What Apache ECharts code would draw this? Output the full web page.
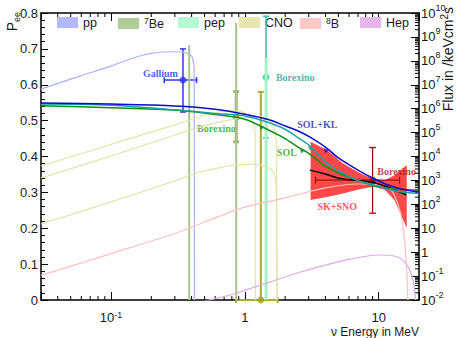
<!DOCTYPE html>
<html><head><meta charset="utf-8">
<script src="https://cdn.jsdelivr.net/npm/echarts@6/dist/echarts.min.js"></script>
<style>html,body{margin:0;padding:0;background:#fff}#c{width:456px;height:338px}</style>
</head><body><div id="c"></div>
<script>
// ---------- survival probability curves (E in MeV, Pee) ----------
const E_curve = [0.03, 0.1, 0.3, 0.6, 1, 1.5, 2, 2.5, 3, 4, 5, 7, 9, 12, 15, 20];
const P_solkl = [0.549, 0.546, 0.541, 0.532, 0.518, 0.503, 0.485, 0.471, 0.456, 0.426, 0.396, 0.362, 0.340, 0.319, 0.309, 0.301];
const P_teal  = [0.546, 0.543, 0.530, 0.520, 0.513, 0.495, 0.476, 0.452, 0.432, 0.385, 0.360, 0.333, 0.321, 0.308, 0.301, 0.297];
const P_sol   = [0.5415, 0.536, 0.5295, 0.517, 0.504, 0.474, 0.450, 0.426, 0.409, 0.373, 0.354, 0.333, 0.320, 0.311, 0.308, 0.306];
const E_skfit = [3.06, 4, 5.1, 7, 9, 12, 14, 16.1];
const P_skfit = [0.362, 0.351, 0.339, 0.333, 0.328, 0.313, 0.302, 0.293];
const E_band  = [3.1, 4.1, 5.4, 7.2, 9.1, 11.1, 13.1, 16.2];
const P_band_lo = [0.279, 0.287, 0.297, 0.309, 0.316, 0.307, 0.279, 0.201];
const P_band_hi = [0.441, 0.418, 0.381, 0.354, 0.337, 0.334, 0.348, 0.376];

// ---------- measurements: point [E, Pee], E range, Pee range ----------
const ga_pt = [0.345, 0.613], ga_ex = [0.25, 0.436], ga_ey = [0.524, 0.700];
const be7_pt = [0.862, 0.511], be7_ey = [0.441, 0.581];
const pep_pt = [1.44, 0.621], pep_ey = [0.452, 0.791];
const cno_pt = [1.316, 0.0], cno_ex = [0.857, 1.76], cno_ey = [0.0, 0.58];
const b8_pt = [9.0, 0.334], b8_ex = [3.37, 14.3], b8_ey = [0.242, 0.425];

// ---------- solar neutrino spectra (flux per keV cm^2 s) ----------
const pp_E = [0.03, 0.06, 0.1, 0.15, 0.2, 0.25, 0.3, 0.35, 0.38, 0.40, 0.41, 0.418, 0.4205];
const pp_F = [6.6e6, 2.4e7, 6.0e7, 1.38e8, 2.04e8, 2.34e8, 2.4e8, 2.24e8, 2.04e8, 1.58e8, 1.1e8, 5.0e7, 0.01];
const be7_E = [0.384, 0.862];
const be7_F = [4.6e8, 3.9e9];
const pep_E = 1.442, pep_F = 1.3e8;
const n13_E = [0.03, 0.1, 0.3, 0.46, 0.6, 0.77, 0.92, 1.05, 1.15, 1.195, 1.199];
const n13_F = [4.0e3, 3.2e4, 2.1e5, 4.5e5, 6.6e5, 8.3e5, 7.9e5, 5.5e5, 2.75e5, 8e4, 0.01];
const o15_E = [0.03, 0.1, 0.3, 0.46, 0.77, 1.0, 1.19, 1.41, 1.59, 1.69, 1.725, 1.732];
const o15_F = [1.26e3, 1.05e4, 7.9e4, 1.7e5, 3.4e5, 4.2e5, 4.5e5, 4.1e5, 2.5e5, 9.5e4, 2e4, 0.01];
const f17_E = [0.03, 0.1, 0.3, 0.46, 0.87, 1.19, 1.48, 1.63, 1.71, 1.74];
const f17_F = [15, 126, 955, 2.2e3, 4.5e3, 4.7e3, 3.6e3, 2.2e3, 850, 0.01];
const b8_E = [0.03, 0.1, 0.3, 0.6, 1, 2, 4, 7, 10, 12.5, 14.5, 15.3, 16, 16.5];
const b8_F = [0.107, 0.87, 6.0, 27, 76, 186, 490, 708, 661, 363, 48, 8.5, 0.57, 0.01];
const hep_E = [0.5, 0.8, 1.5, 2.6, 4.5, 6, 10, 13.5, 15.9, 17.9, 18.8];
const hep_F = [0.009, 0.017, 0.054, 0.148, 0.34, 0.50, 0.76, 0.66, 0.35, 0.083, 0.01];

// ---------- legend ----------
const legNames = ['pp', '7Be', 'pep', 'CNO', '8B', 'Hep'];
const legColors = ['#b3b8ff', '#b0cc98', '#b4f8d4', '#e6e6b4', '#ffc8c8', '#e8b4ec'];
const legLeft = [57, 118, 178, 239, 300, 360];

const FONT = 'Liberation Sans';
const SERIF = 'Liberation Serif';
const chart = echarts.init(document.getElementById('c'), null, {renderer: 'svg'});

const lg = v => Math.log10(v);
function fluxLine(name, E, F, color, width) {
  return {type: 'line', name, xAxisIndex: 0, yAxisIndex: 1, data: E.map((e, i) => [e, lg(F[i])]),
    symbol: 'none', smooth: 0.3, lineStyle: {color, width}, itemStyle: {color}, silent: true};
}
function vline(name, e, f, color, width) {
  return {type: 'line', name, xAxisIndex: 0, yAxisIndex: 1, data: [[e, -2], [e, lg(f)]],
    symbol: 'none', lineStyle: {color, width}, itemStyle: {color}, silent: true};
}
function peeLine(name, E, P, color, width) {
  return {type: 'line', name, xAxisIndex: 0, yAxisIndex: 0, data: E.map((e, i) => [e, P[i]]),
    symbol: 'none', smooth: 0.3, lineStyle: {color, width}, itemStyle: {color}, silent: true};
}
function errSeries(pt, ex, ey, color, lw, cap) {
  const d = [pt[0], pt[1], ex ? ex[0] : pt[0], ex ? ex[1] : pt[0], ey[0], ey[1]];
  return {type: 'custom', xAxisIndex: 0, yAxisIndex: 0, silent: true, clip: false, data: [d],
    renderItem: (params, api) => {
      const x = api.value(0), y = api.value(1), x1 = api.value(2), x2 = api.value(3), y1 = api.value(4), y2 = api.value(5);
      const pl = api.coord([x1, y]), pr = api.coord([x2, y]), pb = api.coord([x, y1]), ptp = api.coord([x, y2]);
      const st = {stroke: color, lineWidth: lw};
      const L = (a, b, c, e) => ({type: 'line', shape: {x1: a, y1: b, x2: c, y2: e}, style: st});
      const ch = [L(pb[0], pb[1], ptp[0], ptp[1])];
      if (y2 !== y) ch.push(L(ptp[0] - cap, ptp[1], ptp[0] + cap, ptp[1]));
      if (y1 !== y) ch.push(L(pb[0] - cap, pb[1], pb[0] + cap, pb[1]));
      if (x1 !== x2) {
        ch.push(L(pl[0], pl[1], pr[0], pr[1]));
        ch.push(L(pl[0], pl[1] - cap, pl[0], pl[1] + cap));
        ch.push(L(pr[0], pr[1] - cap, pr[0], pr[1] + cap));
      }
      return {type: 'group', children: ch};
    }};
}

// minor tick positions for log axes
const xMinor = [];
[0.01, 0.1, 1, 10].forEach(d => { for (let k = 2; k <= 9; k++) { const v = k * d; if (v > 0.03 && v < 20) xMinor.push(v); } });
const yMinor = [];
for (let n = -2; n < 10; n++) for (let k = 2; k <= 9; k++) yMinor.push(n + Math.log10(k));

function powLabel(e) {
  if (e === 0) return '{n|1}';
  if (e === 1) return '{n|10}';
  return '{n|10}{s|' + e + '}';
}
const richPow = {
  n: {fontSize: 13, lineHeight: 20, fontFamily: FONT, color: '#1a1a1a'},
  s: {fontSize: 9, lineHeight: 10, verticalAlign: 'top', fontFamily: FONT, color: '#1a1a1a'}
};
const richPowX = {
  n: {fontSize: 13, lineHeight: 14, fontFamily: FONT, color: '#1a1a1a'},
  s: {fontSize: 9, lineHeight: 6, verticalAlign: 'top', fontFamily: FONT, color: '#1a1a1a'}
};

const series = [
  fluxLine('pp', pp_E, pp_F, '#aab0ff', 1.2),
  vline('7Be', be7_E[0], be7_F[0], '#a8c48c', 2),
  vline('7Be', be7_E[1], be7_F[1], '#a8c48c', 2),
  vline('pep', pep_E, pep_F, '#a8f2c8', 3),
  fluxLine('CNO', n13_E, n13_F, '#e4e4aa', 1.2),
  fluxLine('CNO', o15_E, o15_F, '#e4e4aa', 1.2),
  fluxLine('CNO', f17_E, f17_F, '#e4e4aa', 1.2),
  fluxLine('8B', b8_E, b8_F, '#ffc0c0', 1.2),
  fluxLine('Hep', hep_E, hep_F, '#e2a8e8', 1.2),
  // SK+SNO allowed band: polygon between the upper and lower edges
  {type: 'custom', name: 'SK+SNO band', xAxisIndex: 0, yAxisIndex: 0, silent: true, clip: true,
    data: [[E_band[0], P_band_hi[0]]],
    renderItem: (params, api) => {
      const up = E_band.map((e, i) => api.coord([e, P_band_hi[i]]));
      const lo = E_band.map((e, i) => api.coord([e, P_band_lo[i]])).reverse();
      return {type: 'polygon', shape: {points: up.concat(lo)}, style: {fill: '#ff4848', stroke: 'none'}};
    }},
  peeLine('SK+SNO fit', E_skfit, P_skfit, '#000000', 1.5),
  peeLine('SOL', E_curve, P_sol, '#109010', 1.5),
  peeLine('SOL+KL alt', E_curve, P_teal, '#1ea0a8', 1.5),
  peeLine('SOL+KL', E_curve, P_solkl, '#0a0ad0', 1.5),
  errSeries(be7_pt, null, be7_ey, '#9db46c', 3, 3),
  errSeries(cno_pt, cno_ex, cno_ey, '#aaaa30', 2, 3),
  errSeries(pep_pt, null, pep_ey, '#2cc0a8', 1.5, 3),
  errSeries(ga_pt, ga_ex, ga_ey, '#3535ff', 1.5, 3),
  errSeries(b8_pt, b8_ex, b8_ey, '#a01010', 1.3, 3.5),
  {type: 'scatter', xAxisIndex: 0, yAxisIndex: 0, silent: true, clip: false, data: [
    {value: ga_pt, symbol: 'circle', symbolSize: 7, itemStyle: {color: '#3535ff'}},
    {value: be7_pt, symbol: 'rect', symbolSize: 6, itemStyle: {color: '#6e9c2e'}},
    {value: pep_pt, symbol: 'circle', symbolSize: 7, itemStyle: {color: '#20d098'}},
    {value: cno_pt, symbol: 'circle', symbolSize: 7, itemStyle: {color: '#a0a020'}},
    {value: b8_pt, symbol: 'circle', symbolSize: 7, itemStyle: {color: '#a01010'}}
  ]},
  // small arrow markers on theory curves
  {type: 'scatter', xAxisIndex: 0, yAxisIndex: 0, silent: true, symbol: 'triangle', symbolSize: 5, symbolRotate: 40, data: [
    {value: [1.316, 0.483], itemStyle: {color: '#109010'}},
    {value: [2.65, 0.418], itemStyle: {color: '#109010'}},
    {value: [3.05, 0.4255], itemStyle: {color: '#1ea0a8'}},
    {value: [3.99, 0.418], itemStyle: {color: '#1010c0'}}
  ]},
  // text annotations
  {type: 'scatter', xAxisIndex: 0, yAxisIndex: 0, silent: true, symbolSize: 0,
    label: {show: true, position: 'inside', formatter: '{b}', fontFamily: SERIF, fontWeight: 'bold', fontSize: 10},
    data: [
      {name: 'Gallium', value: [0.234, 0.630], label: {color: '#3030f0'}},
      {name: 'Borexino', value: [2.38, 0.619], label: {color: '#22a4a0'}},
      {name: 'Borexino', value: [0.613, 0.479], label: {color: '#2ca02c'}},
      {name: 'SOL+KL', value: [3.48, 0.488], label: {color: '#2424a8'}},
      {name: 'SOL', value: [2.06, 0.412], label: {color: '#20a020'}},
      {name: 'SK+SNO', value: [4.90, 0.262], label: {color: '#ff2a2a'}},
      {name: 'Borexino', value: [13.6, 0.3595], label: {color: '#a01818'}}
    ]},
  // log minor ticks (x, bottom and top)
  {type: 'custom', xAxisIndex: 0, yAxisIndex: 0, silent: true, clip: false, data: xMinor.map(v => [v, 0.4]),
    renderItem: (params, api) => {
      const cs = params.coordSys; const p = api.coord([api.value(0), 0.4]);
      const st = {stroke: '#000', lineWidth: 1};
      return {type: 'group', children: [
        {type: 'line', shape: {x1: p[0], y1: cs.y + cs.height, x2: p[0], y2: cs.y + cs.height - 4}, style: st},
        {type: 'line', shape: {x1: p[0], y1: cs.y, x2: p[0], y2: cs.y + 4}, style: st}]};
    }},
  // log minor ticks (right axis)
  {type: 'custom', xAxisIndex: 0, yAxisIndex: 1, silent: true, clip: false, data: yMinor.map(v => [1, v]),
    renderItem: (params, api) => {
      const cs = params.coordSys; const p = api.coord([1, api.value(1)]);
      return {type: 'line', shape: {x1: cs.x + cs.width, y1: p[1], x2: cs.x + cs.width - 4, y2: p[1]}, style: {stroke: '#000', lineWidth: 1}};
    }}
];

const option = {
  animation: false,
  backgroundColor: '#fff',
  grid: {left: 41, right: 37, top: 13, bottom: 38, containLabel: false},
  legend: legNames.map((n, i) => ({
    left: legLeft[i], top: 16, padding: 0, itemGap: 0, itemWidth: 21, itemHeight: 11, selectedMode: false, z: 1,
    data: [{name: n, icon: 'rect', itemStyle: {color: legColors[i], borderWidth: 0}, lineStyle: {width: 0}}],
    formatter: nm => nm === '7Be' ? '{s|7}{t|Be}' : nm === '8B' ? '{s|8}{t|B}' : '{t|' + nm + '}',
    textStyle: {fontFamily: FONT, fontSize: 12.5, color: '#1a1a1a',
      rich: {t: {fontFamily: FONT, fontSize: 12.5, lineHeight: 15, color: '#1a1a1a'},
             s: {fontFamily: FONT, fontSize: 8.5, lineHeight: 9, verticalAlign: 'top', color: '#1a1a1a'}}}
  })),
  xAxis: [
    {type: 'log', logBase: 10, min: 0.03, max: 20, position: 'bottom',
      axisLine: {show: true, onZero: false, lineStyle: {color: '#000', width: 1.5}},
      axisTick: {show: true, inside: true, length: 8, lineStyle: {color: '#000', width: 1}},
      minorTick: {show: false}, splitLine: {show: false},
      axisLabel: {margin: 10, formatter: v => { const l = Math.log10(v), e = Math.round(l); return Math.abs(l - e) > 1e-6 ? '' : powLabel(e); }, rich: richPowX}},
    {type: 'log', logBase: 10, min: 0.03, max: 20, position: 'top',
      axisLine: {show: true, onZero: false, lineStyle: {color: '#000', width: 1.5}},
      axisTick: {show: true, inside: true, length: 8, lineStyle: {color: '#000', width: 1}},
      minorTick: {show: false}, splitLine: {show: false}, axisLabel: {show: false}}
  ],
  yAxis: [
    {type: 'value', min: 0, max: 0.8, interval: 0.1, position: 'left',
      axisLine: {show: true, onZero: false, lineStyle: {color: '#000', width: 1.5}},
      axisTick: {show: true, inside: true, length: 7, lineStyle: {color: '#000', width: 1}},
      minorTick: {show: true, splitNumber: 5, length: 4, lineStyle: {color: '#000', width: 1}},
      splitLine: {show: false},
      axisLabel: {margin: 3, fontFamily: FONT, fontSize: 13, color: '#1a1a1a', formatter: v => +v.toFixed(1) + ''}},
    {type: 'value', min: -2, max: 10, interval: 1, position: 'right',
      axisLine: {show: true, onZero: false, lineStyle: {color: '#000', width: 1.5}},
      axisTick: {show: true, inside: true, length: 8, lineStyle: {color: '#000', width: 1}},
      minorTick: {show: false}, splitLine: {show: false},
      axisLabel: {margin: 2, formatter: v => powLabel(Math.round(v)), rich: richPow}}
  ],
  graphic: [
    {type: 'text', x: 12, y: 12, rotation: Math.PI / 2, silent: true,
      style: {text: '{a|P}{b|ee}', align: 'right', verticalAlign: 'middle',
        rich: {a: {fontFamily: FONT, fontSize: 14, lineHeight: 18, fill: '#1a1a1a'},
               b: {fontFamily: FONT, fontSize: 9, lineHeight: 10, verticalAlign: 'bottom', fill: '#1a1a1a'}}}},
    {type: 'text', x: 448, y: 7, rotation: Math.PI / 2, silent: true,
      style: {text: '{a|Flux in /keVcm}{s|2}{a|s}', align: 'right', verticalAlign: 'middle',
        rich: {a: {fontFamily: FONT, fontSize: 14, lineHeight: 18, fill: '#1a1a1a'},
               s: {fontFamily: FONT, fontSize: 10, lineHeight: 10, verticalAlign: 'top', fill: '#1a1a1a'}}}},
    {type: 'text', x: 419, y: 331.5, silent: true,
      style: {text: 'ν Energy in MeV', align: 'right', verticalAlign: 'middle', fontFamily: FONT, fontSize: 12, fill: '#1a1a1a'}}
  ],
  series
};
chart.setOption(option);
</script></body></html>
